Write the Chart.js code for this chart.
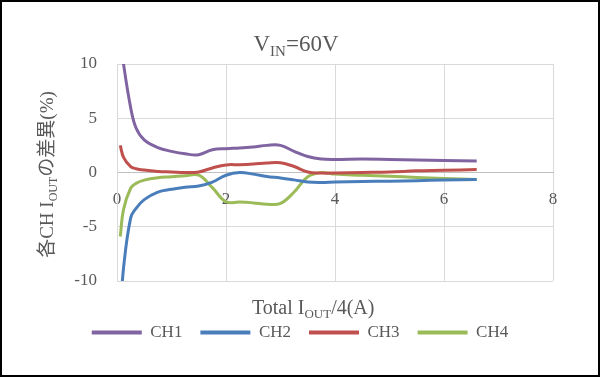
<!DOCTYPE html>
<html>
<head>
<meta charset="utf-8">
<script src="https://cdn.jsdelivr.net/npm/chart.js@4.4.1/dist/chart.umd.min.js"></script>
<style>
    body { margin: 0; background: #fff; }
    #wrap { position: relative; width: 600px; height: 377px; }
    #wrap::after {
        content: ''; position: absolute; left: 0; top: 0; right: 0; bottom: 0;
        border: 2px solid #000; pointer-events: none;
    }
    canvas { display: block; }
</style>
</head>
<body>
<div id="wrap"><canvas id="chart" width="600" height="377"></canvas></div>
<script>
// 測定点 Total IOUT/4 (A)
const iout = [0.06, 0.12, 0.25, 0.35, 0.5, 0.75, 1.0, 1.25, 1.5, 1.75, 2.0, 2.25,
              2.5, 2.75, 3.0, 3.25, 3.5, 3.75, 4.0, 4.5, 5.0, 5.5, 6.0, 6.6];

// 各CHの差異 (%)
const ch1 = [12.5, 10.0, 6.0, 4.1, 3.0, 2.3, 1.95, 1.72, 1.64, 2.1, 2.2, 2.25,
             2.35, 2.5, 2.5, 1.95, 1.47, 1.24, 1.2, 1.24, 1.2, 1.15, 1.1, 1.05];
const ch2 = [-13, -8.8, -4.2, -3.3, -2.5, -1.8, -1.55, -1.35, -1.25, -0.88, -0.25, 0.0,
             -0.15, -0.37, -0.5, -0.68, -0.88, -0.92, -0.88, -0.83, -0.8, -0.75, -0.7, -0.65];
const ch3 = [2.5, 1.4, 0.55, 0.35, 0.22, 0.1, 0.05, 0.0, 0.05, 0.42, 0.7, 0.72,
             0.78, 0.88, 0.9, 0.55, 0.05, -0.05, -0.05, 0.0, 0.05, 0.15, 0.2, 0.28];
const ch4 = [-5.9, -3.4, -1.45, -1.0, -0.7, -0.48, -0.4, -0.3, -0.25, -1.4, -2.7, -2.72,
             -2.8, -2.92, -2.85, -1.8, -0.4, 0.0, -0.15, -0.25, -0.35, -0.45, -0.55, -0.65];

const seriesNames = ['CH1', 'CH2', 'CH3', 'CH4'];
const seriesColors = ['#8064A2', '#4A7EBB', '#C0504D', '#9BBB59'];

const xTicks = [0, 2, 4, 6, 8];
const yTicks = [-10, -5, 0, 5, 10];

const FONT = "'Liberation Serif', 'Noto Sans CJK JP', serif";
const TEXT = '#595959';

function points(ys) {
    return iout.map((x, i) => ({ x: x, y: ys[i] }));
}

// 下付き文字つきのテキストを描く
function richWidth(ctx, parts, size) {
    let w = 0;
    parts.forEach(p => {
        ctx.font = (p.sub ? Math.round(size * 0.65) : size) + 'px ' + FONT;
        w += ctx.measureText(p.t).width;
    });
    return w;
}

function drawRich(ctx, parts, size, cx, baseY) {
    let x = cx - richWidth(ctx, parts, size) / 2;
    ctx.textAlign = 'left';
    ctx.textBaseline = 'alphabetic';
    ctx.fillStyle = TEXT;
    parts.forEach(p => {
        const s = p.sub ? Math.round(size * 0.65) : size;
        ctx.font = s + 'px ' + FONT;
        ctx.fillText(p.t, x, baseY + (p.sub ? size * 0.22 : 0));
        x += ctx.measureText(p.t).width;
    });
}

const titleParts = [{ t: 'V' }, { t: 'IN', sub: true }, { t: '=60V' }];
const xTitleParts = [{ t: 'Total I' }, { t: 'OUT', sub: true }, { t: '/4(A)' }];
const yTitleParts = [{ t: '各CH I' }, { t: 'OUT', sub: true }, { t: 'の差異(%)' }];

const textPlugin = {
    id: 'richTitles',
    afterDraw(chart) {
        const ctx = chart.ctx;
        const a = chart.chartArea;
        ctx.save();
        drawRich(ctx, titleParts, 23, chart.width / 2 - 4, a.top - 13);
        drawRich(ctx, xTitleParts, 20, a.left + (a.right - a.left) * 0.45, a.bottom + 33);
        ctx.translate(53, (a.top + a.bottom) / 2 + 2);
        ctx.rotate(-Math.PI / 2);
        drawRich(ctx, yTitleParts, 19, 0, 0);
        ctx.restore();
    }
};

new Chart(document.getElementById('chart'), {
    type: 'line',
    data: {
        datasets: [ch1, ch2, ch3, ch4].map((ys, i) => ({
            label: seriesNames[i],
            data: points(ys),
            borderColor: seriesColors[i],
            backgroundColor: seriesColors[i],
            borderWidth: 3,
            pointRadius: 0,
            tension: 0.4,
            fill: false
        }))
    },
    options: {
        responsive: false,
        animation: false,
        layout: { padding: { left: 47, right: 47, top: 64, bottom: 26 } },
        plugins: {
            title: { display: false },
            tooltip: { enabled: false },
            legend: {
                position: 'bottom',
                labels: {
                    boxWidth: 50,
                    boxHeight: 4,
                    padding: 18,
                    color: TEXT,
                    font: { family: FONT, size: 17 },
                    generateLabels: chart => {
                        const items = Chart.defaults.plugins.legend.labels.generateLabels(chart);
                        items.forEach(it => { it.lineWidth = 0; });
                        return items;
                    }
                }
            }
        },
        scales: {
            x: {
                type: 'linear',
                position: { y: 0 },
                min: 0,
                max: 8,
                afterBuildTicks: s => { s.ticks = xTicks.map(v => ({ value: v })); },
                grid: { color: '#D9D9D9', drawTicks: false },
                border: { color: '#BFBFBF' },
                ticks: { color: TEXT, padding: 17, font: { family: FONT, size: 17 } }
            },
            // x軸タイトル用の余白
            gap: {
                type: 'linear',
                position: 'bottom',
                display: true,
                grid: { display: false },
                border: { display: false },
                ticks: { display: false },
                afterFit: s => { s.height = 25; }
            },
            y: {
                min: -10,
                max: 10,
                afterBuildTicks: s => { s.ticks = yTicks.map(v => ({ value: v })); },
                afterFit: s => { s.width = 70; },
                grid: { color: '#D9D9D9', drawTicks: false },
                border: { color: '#D9D9D9' },
                ticks: { color: TEXT, padding: 20, font: { family: FONT, size: 17 } }
            }
        }
    },
    plugins: [textPlugin]
});
</script>
</body>
</html>
